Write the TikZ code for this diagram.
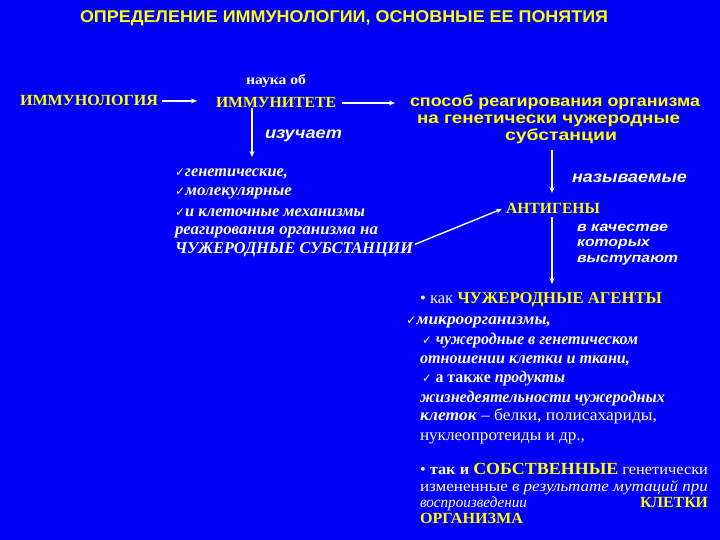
\documentclass[tikz,border=0pt]{standalone}
\usepackage{fontspec}
\setmainfont{Liberation Serif}
\setsansfont{Liberation Sans}
\newfontfamily\symf{DejaVu Sans}
\usetikzlibrary{arrows.meta}
\definecolor{bg}{RGB}{0,0,250}
\definecolor{yel}{RGB}{255,255,0}
\definecolor{lyel}{RGB}{255,255,210}
\newsavebox\wtmp
\newcommand\wbox[2]{\sbox\wtmp{#2}\scalebox{\fpeval{#1/\the\wd\wtmp}}[1]{\usebox\wtmp}}
\newcommand\ck{{\symf\fontsize{12}{12}\selectfont ✓}}
\begin{document}
\begin{tikzpicture}[x=1pt,y=-1pt,
  every node/.style={inner sep=0pt,outer sep=0pt,anchor=base west,text=white},
  arr/.style={draw=white,line width=1.4pt,-{Stealth[length=6pt,width=5pt]}},
  ttl/.style={text=yel,font=\sffamily\bfseries\fontsize{17}{17}\selectfont},
  capy/.style={text=yel,font=\bfseries\fontsize{15.5}{15.5}\selectfont},
  sansy/.style={text=yel,font=\sffamily\bfseries\fontsize{16}{16}\selectfont},
  sansi/.style={text=white,font=\sffamily\bfseries\itshape\fontsize{16}{16}\selectfont},
  sansis/.style={text=white,font=\sffamily\bfseries\itshape\fontsize{13.5}{13.5}\selectfont},
  lst/.style={text=lyel,font=\bfseries\itshape\fontsize{16.5}{16.5}\selectfont},
  rl/.style={text=white,font=\fontsize{16.5}{16.5}\selectfont},
  bt/.style={text=white,font=\fontsize{15.5}{15.5}\selectfont}]

\fill[bg] (0,0) rectangle (720,540);
\useasboundingbox (0,0) rectangle (720,540);

\node[ttl] (title) at (80,23) {\wbox{528}{ОПРЕДЕЛЕНИЕ ИММУНОЛОГИИ, ОСНОВНЫЕ ЕЕ ПОНЯТИЯ}};

\node[capy] (imlog) at (20,106) {\wbox{138}{ИММУНОЛОГИЯ}};
\node[font=\bfseries\fontsize{14}{14}\selectfont] (nauka) at (246,85) {\wbox{60}{наука об}};
\node[capy] (imtet) at (216,108) {\wbox{120}{ИММУНИТЕТЕ}};
\node[sansy] (sp1) at (410,107) {\wbox{290}{способ реагирования организма}};
\node[sansy] (sp2) at (417,124) {\wbox{263}{на генетически чужеродные}};
\node[sansy] (sp3) at (505,141) {\wbox{112}{субстанции}};
\node[sansi] (izuch) at (265,139) {\wbox{77}{изучает}};

\node[lst] (l1) at (175,177) {\wbox{113}{\ck генетические,}};
\node[lst] (l2) at (175,196) {\wbox{117}{\ck молекулярные}};
\node[lst] (l3) at (175,216) {\wbox{190}{\ck и клеточные механизмы}};
\node[lst,text=white] (l4) at (175,235) {\wbox{203}{реагирования организма на}};
\node[lst,text=white] (l5) at (175,254) {\wbox{238}{ЧУЖЕРОДНЫЕ СУБСТАНЦИИ}};

\node[sansi] (nazyv) at (572,183) {\wbox{115}{называемые}};
\node[capy] (antigen) at (506,214) {\wbox{94}{АНТИГЕНЫ}};
\node[sansis] (vk1) at (577,232) {\wbox{91}{в качестве}};
\node[sansis] (vk2) at (577,247) {\wbox{73}{которых}};
\node[sansis] (vk3) at (577,262) {\wbox{101}{выступают}};

\node[rl] (r0) at (420,303) {\wbox{242}{• как \textcolor{yel}{\bfseries ЧУЖЕРОДНЫЕ АГЕНТЫ}}};
\node[rl] (r1) at (406,324) {\wbox{145}{\ck{\bfseries\itshape микроорганизмы,}}};
\node[rl] (r2) at (422,344) {\wbox{216}{\ck\ {\bfseries\itshape чужеродные в генетическом}}};
\node[rl] (r3) at (420,363) {\wbox{210}{\bfseries\itshape отношении клетки и ткани,}};
\node[rl] (r4) at (422,382) {\wbox{143}{\ck\ {\bfseries а также} {\bfseries\itshape продукты}}};
\node[rl] (r5) at (420,402) {\wbox{245}{\bfseries\itshape жизнедеятельности чужеродных}};
\node[rl] (r6) at (420,420) {\wbox{237}{{\bfseries\itshape клеток} – белки, полисахариды,}};
\node[rl] (r7) at (420,440) {\wbox{165}{нуклеопротеиды и др.,}};

\node[bt] (b1) at (420,474) {\wbox{288}{• {\bfseries так и} \textcolor{yel}{\bfseries\fontsize{17}{17}\selectfont СОБСТВЕННЫЕ} генетически}};
\node[bt] (b2) at (420,491) {\wbox{288}{измененные {\itshape в результате мутаций при}}};
\node[bt] (b3) at (420,507) {\makebox[288pt][l]{\wbox{107}{\itshape воспроизведении}\hfill\textcolor{yel}{\wbox{68}{\bfseries КЛЕТКИ}}}};
\node[bt,text=yel] (b4) at (420,523) {\wbox{103}{\bfseries ОРГАНИЗМА}};

\draw[arr] ([xshift=4pt]imlog.east) -- ([xshift=-19pt]imtet.west |- imlog.east);
\draw[arr] ([xshift=6pt]imtet.east) -- ([xshift=-15pt]sp1.west |- imtet.east);
\coordinate (t1) at (252,157);
\draw[arr] (imtet.south -| t1) -- (t1);
\coordinate (t2) at (552,193);
\coordinate (s2) at ([yshift=-6pt]sp3.south);
\draw[arr] (s2 -| t2) -- (t2);
\coordinate (t3) at (552,284);
\coordinate (s3) at ([yshift=-3pt]antigen.south);
\draw[arr] (s3 -| t3) -- (t3);
\draw[arr] ([xshift=2pt,yshift=6pt]l5.east) -- ([xshift=-4pt]antigen.west);
\end{tikzpicture}
\end{document}
